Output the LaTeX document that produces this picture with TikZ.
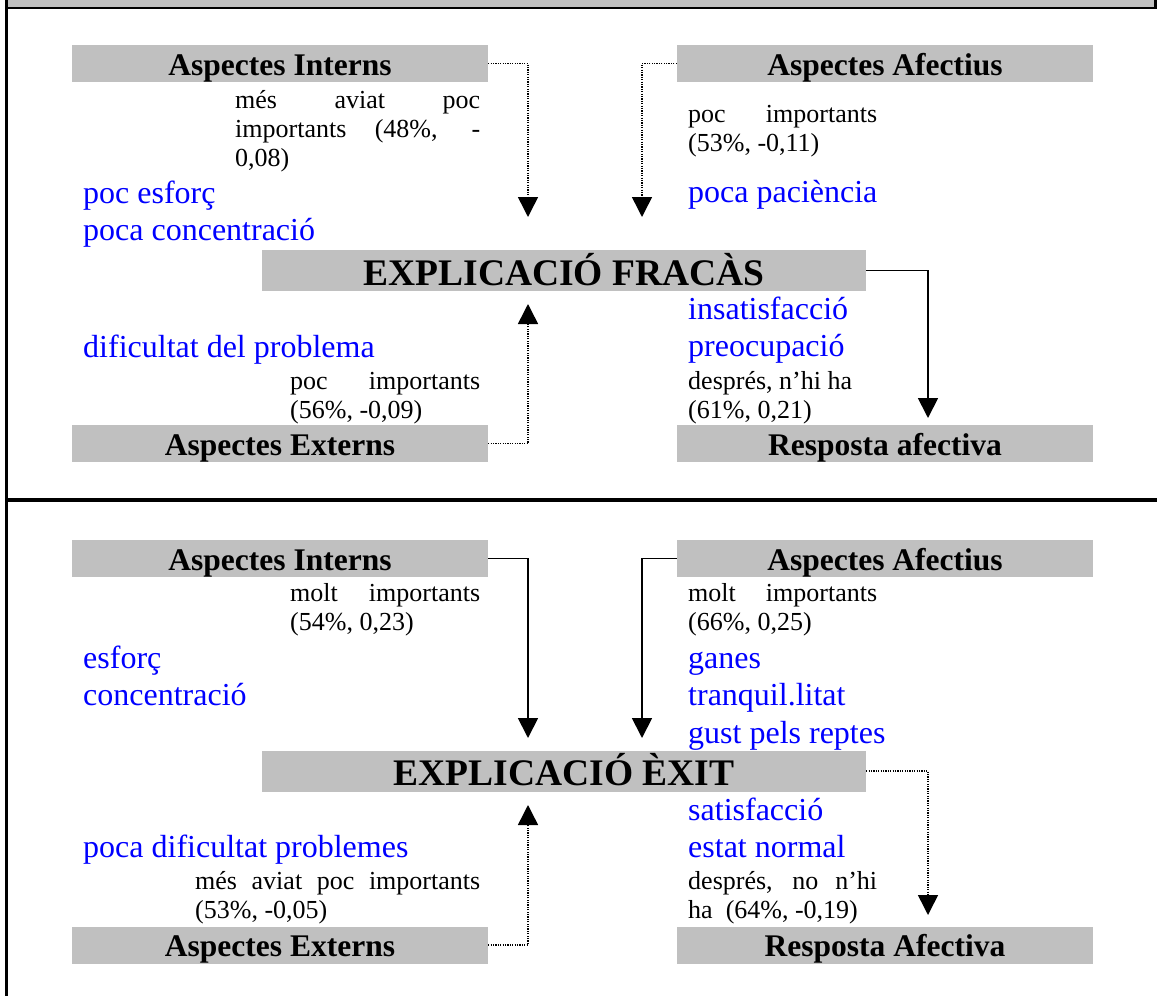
\documentclass[tikz,border=0pt]{standalone}
\usepackage{fontspec}
\setmainfont{Liberation Serif}
\usetikzlibrary{arrows.meta}
\definecolor{boxgray}{HTML}{C0C0C0}
\definecolor{itemblue}{HTML}{0000FF}
\newcommand{\hdfont}{\bfseries\fontsize{31.5}{36}\selectfont}
\newcommand{\bigfont}{\bfseries\fontsize{37.5}{42}\selectfont}
\newcommand{\notefont}{\fontsize{26}{29}\selectfont}
\newcommand{\itemfont}{\fontsize{32}{37.5}\selectfont}
\begin{document}
\begin{tikzpicture}[x=1pt,y=-1pt,
  hdbox/.style={fill=boxgray, minimum width=416pt, inner sep=0pt, text height=30pt, text depth=7pt, font=\hdfont},
  bigbox/.style={fill=boxgray, minimum width=604pt, inner sep=0pt, text height=35pt, text depth=6pt, font=\bigfont},
  note/.style={anchor=base west, inner sep=0pt, font=\notefont, text=black},
  items/.style={anchor=base west, inner sep=0pt, font=\itemfont, text=itemblue},
  solidarrow/.style={line width=1.8pt, -{Triangle[width=20pt,length=20pt]}},
  dotarrow/.style={line width=1.5pt, dash pattern=on 1.2pt off 1.2pt, -{Triangle[width=20pt,length=20pt]}}
]
\useasboundingbox (0,0) rectangle (1157,996);

% frame: header strip, outer rules and panel divider
\fill[boxgray] (7,0) rectangle (1155,7);
\draw[line width=2.5pt] (6.5,0) -- (6.5,996);
\draw[line width=2.5pt] (1155.5,0) -- (1155.5,8);
\draw[line width=2.5pt] (6,8) -- (1157,8);
\draw[line width=3.5pt] (6,500) -- (1157,500);

% ---------- upper panel: failure ----------
\node[hdbox] (intA) at (280,63.5) {Aspectes Interns};
\node[hdbox] (afA) at (885,63.5) {Aspectes Afectius};
\node[bigbox] (expA) at (564,270.5) {EXPLICACIÓ FRACÀS};
\node[hdbox] (extA) at (280,443.5) {Aspectes Externs};
\node[hdbox] (resA) at (885,443.5) {Resposta afectiva};

\node[note] (nIntA) at (235,108) {\parbox[t]{245pt}{\notefont
  \makebox[245pt][s]{més aviat poc}\\
  \makebox[245pt][s]{importants (48\%, -}\\
  0,08)}};
\node[items] (iIntA) at (83,203) {\parbox[t]{400pt}{\itemfont poc esforç\\ poca concentració}};
\node[note] (nAfA) at (688,122) {\parbox[t]{300pt}{\notefont
  \makebox[189pt][s]{poc importants}\\ (53\%, -0,11)}};
\node[items] (iAfA) at (688,202) {poca paciència};
\node[items] (iResA) at (688,319) {\parbox[t]{300pt}{\itemfont insatisfacció\\ preocupació}};
\node[note] (nResA) at (688,389) {\parbox[t]{300pt}{\notefont després, n’hi ha\\ (61\%, 0,21)}};
\node[items] (iExtA) at (83,357) {dificultat del problema};
\node[note] (nExtA) at (290,389) {\parbox[t]{300pt}{\notefont
  \makebox[190pt][s]{poc importants}\\ (56\%, -0,09)}};

\coordinate (tIntA) at (528,217);
\coordinate (tAfA) at (642,217);
\coordinate (tResA) at (928,418);
\coordinate (tExtA) at (528,304);
\draw[dotarrow] (intA.east) -| (tIntA);
\draw[dotarrow] (afA.west) -| (tAfA);
\draw[solidarrow] (expA.east) -| (tResA);
\draw[dotarrow] (extA.east) -| (tExtA);

% ---------- lower panel: success ----------
\node[hdbox] (intB) at (280,558.5) {Aspectes Interns};
\node[hdbox] (afB) at (885,558.5) {Aspectes Afectius};
\node[bigbox] (expB) at (564,771) {EXPLICACIÓ ÈXIT};
\node[hdbox] (extB) at (280,945) {Aspectes Externs};
\node[hdbox] (resB) at (885,945) {Resposta Afectiva};

\node[note] (nIntB) at (290,601) {\parbox[t]{300pt}{\notefont
  \makebox[190pt][s]{molt importants}\\ (54\%, 0,23)}};
\node[items] (iIntB) at (83,668) {\parbox[t]{400pt}{\itemfont esforç\\ concentració}};
\node[note] (nAfB) at (688,601) {\parbox[t]{300pt}{\notefont
  \makebox[189pt][s]{molt importants}\\ (66\%, 0,25)}};
\node[items] (iAfB) at (688,668) {\parbox[t]{400pt}{\baselineskip=36pt\itemfont ganes\\ tranquil.litat\\ gust pels reptes}};
\node[items] (iResB) at (688,820) {\parbox[t]{300pt}{\itemfont satisfacció\\ estat normal}};
\node[note] (nResB) at (688,889) {\parbox[t]{300pt}{\notefont
  \makebox[189pt][s]{després, no n’hi}\\ ha\ \ (64\%, -0,19)}};
\node[items] (iExtB) at (83,857) {poca dificultat problemes};
\node[note] (nExtB) at (195,889) {\parbox[t]{300pt}{\notefont
  \makebox[285pt][s]{més aviat poc importants}\\ (53\%, -0,05)}};

\coordinate (tIntB) at (528,738);
\coordinate (tAfB) at (642,738);
\coordinate (tResB) at (928,915);
\coordinate (tExtB) at (528,805);
\draw[solidarrow] (intB.east) -| (tIntB);
\draw[solidarrow] (afB.west) -| (tAfB);
\draw[dotarrow] (expB.east) -| (tResB);
\draw[dotarrow] (extB.east) -| (tExtB);
\end{tikzpicture}
\end{document}
